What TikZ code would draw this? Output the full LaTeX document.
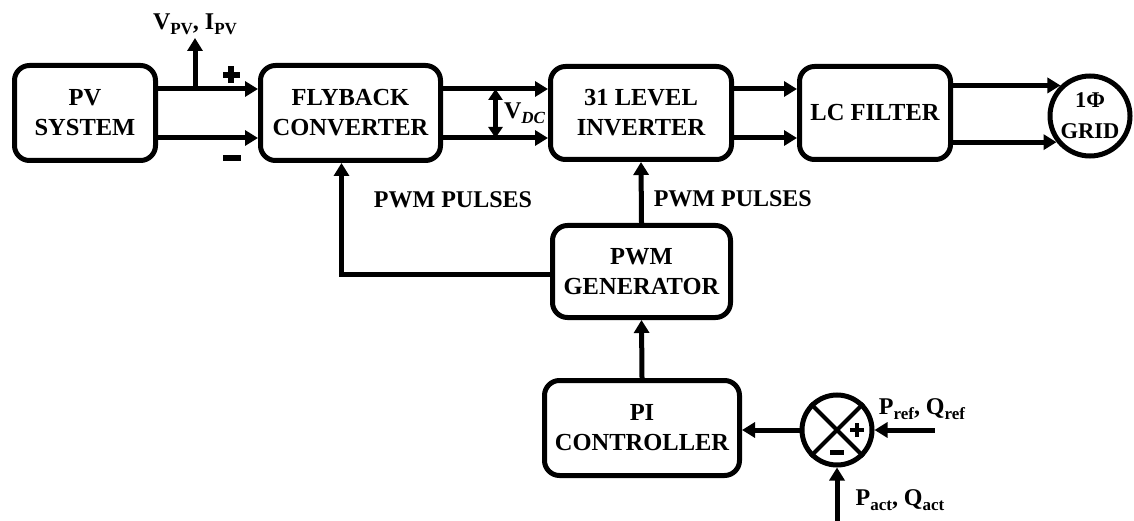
\documentclass[tikz,border=0pt]{standalone}
\usepackage{fontspec}
\setmainfont{Liberation Serif}
\setsansfont{Liberation Sans}
\usetikzlibrary{arrows.meta,calc}
\newcommand\lowsub[1]{\raisebox{-0.45ex}{\fontsize{17}{17}\selectfont #1}}
\newcommand\boldplus[2]{\makebox[0pt]{\rule[\dimexpr-#2/2\relax]{#1}{#2}}\makebox[0pt]{\rule[\dimexpr-#1/2\relax]{#2}{#1}}}

\begin{document}
\begin{tikzpicture}[x=1pt,y=-1pt,line width=5pt,
    blk/.style={draw,rounded corners=15pt,align=center,inner sep=0pt,
      font=\fontsize{24.5}{30}\selectfont\bfseries},
    arr/.style={-{Triangle[length=13pt,width=15pt]}},
    lbl/.style={inner sep=0pt,font=\fontsize{24}{28}\selectfont\bfseries},
    sgn/.style={inner sep=0pt}]
  \useasboundingbox (0,0) rectangle (1134,521);

  % power path
  \node[blk,minimum width=141pt,minimum height=95pt] (pv) at (85,113) {PV\\SYSTEM};
  \node[blk,minimum width=180pt,minimum height=95pt] (fly) at (350.5,113) {FLYBACK\\CONVERTER};
  \node[blk,minimum width=181pt,minimum height=93pt] (inv) at (641,113) {31 LEVEL\\INVERTER};
  \node[blk,minimum width=151pt,minimum height=93pt] (lc) at (875,113) {LC FILTER};
  \node[draw,circle,minimum size=80pt,align=center,inner sep=0pt,
    font=\fontsize{22.5}{31}\selectfont\bfseries] (grid) at (1090,116) {1Φ\\GRID};

  % control path
  \node[blk,minimum width=178pt,minimum height=92pt] (pwm) at (641.5,271.5) {PWM\\GENERATOR};
  \node[blk,minimum width=195pt,minimum height=95pt] (pi) at (642,428) {PI\\CONTROLLER};
  \node[draw,circle,minimum size=70pt,inner sep=0pt] (sum) at (837,430) {};
  \draw[line width=4pt] (sum.north west) -- (sum.south east)
    (sum.north east) -- (sum.south west);
  \node[sgn] (sumplus) at ([xshift=20pt]sum.center) {\boldplus{14pt}{4.5pt}};
  \node[sgn] (summinus) at ([yshift=-22pt]sum.center) {\rule{14pt}{5pt}};

  \foreach \dy in {24,-25} {
    \draw[arr] ([yshift=\dy pt]pv.east) -- ([yshift=\dy pt]fly.west);
    \draw[arr] ([yshift=\dy pt]fly.east) -- ([yshift=\dy pt]inv.west);
    \draw[arr] ([yshift=\dy pt]inv.east) -- ([yshift=\dy pt]lc.west);
  }
  \draw[arr] (lc.east |- grid.134) -- (grid.134);
  \draw[arr] (lc.east |- grid.218) -- (grid.218);

  % measured pv quantities
  \coordinate (tap) at (195,89);
  \coordinate (meas) at (195,38);
  \draw[arr] (tap) -- (meas) node[lbl,above=1pt] (pvlbl) {V\lowsub{PV}, I\lowsub{PV}};
  \node[sgn] (plus) at (231,75) {\boldplus{17pt}{5.5pt}};
  \node[sgn] (minus) at (232,158) {\rule{18pt}{6pt}};

  % dc link
  \coordinate (dctop) at ($([yshift=24pt]fly.east)!0.5!([yshift=24pt]inv.west)$);
  \coordinate (dcbot) at ($([yshift=-25pt]fly.east)!0.5!([yshift=-25pt]inv.west)$);
  \draw[{Triangle[length=11pt,width=14pt]}-{Triangle[length=11pt,width=14pt]}]
    (dctop) -- (dcbot) node[lbl,midway,right=6pt] (dclbl) {V\lowsub{\textit{DC}}};

  % gate signals
  \draw[arr] (pwm.north) -- (inv.south) node[lbl,pos=0.39,right=10pt] (pulseinv) {PWM PULSES};
  \draw[arr] ([yshift=-3pt]pwm.west) -| ([xshift=-9pt]fly.south);
  \node[lbl] (pulsefly) at (453,200) {PWM PULSES};

  % feedback loop
  \draw[arr] (pi.north) -- (pwm.south);
  \draw[arr] (sum.west) -- (sum.west -| pi.east);
  \coordinate (ref) at ([xshift=60pt]sum.east);
  \draw[arr] (ref) -- (sum.east);
  \node[lbl] (reflbl) at (922,409) {P\lowsub{ref}, Q\lowsub{ref}};
  \coordinate (act) at (sum.south |- 0,524);
  \draw[arr] (act) -- (sum.south);
  \node[lbl] (actlbl) at (900,500) {P\lowsub{act}, Q\lowsub{act}};
\end{tikzpicture}
\end{document}
